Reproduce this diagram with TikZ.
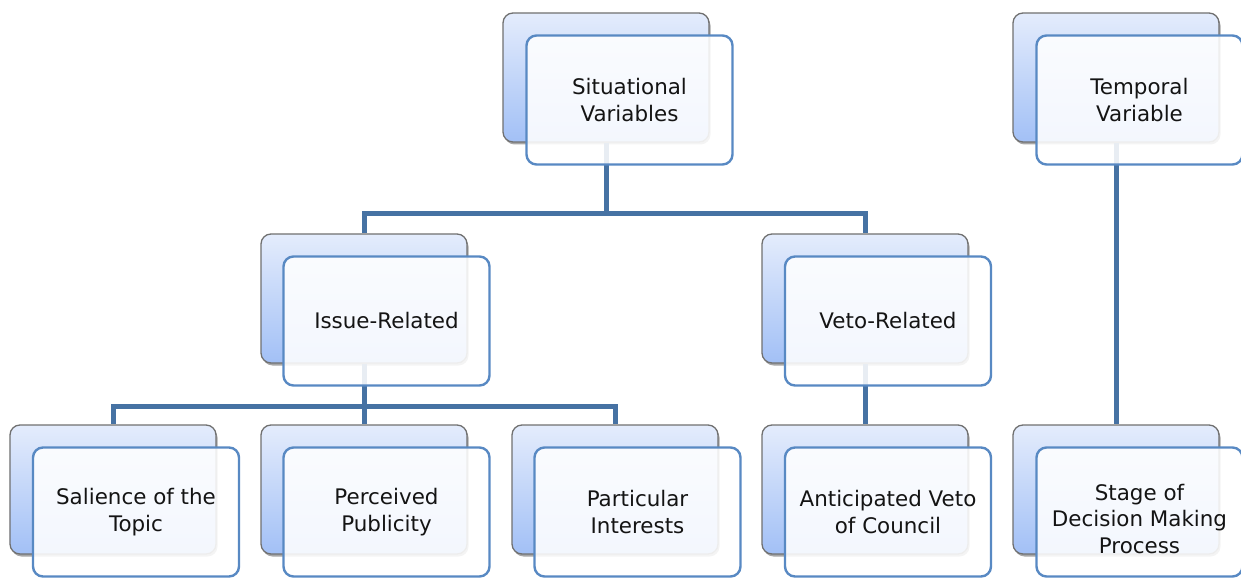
\documentclass[tikz,border=0pt]{standalone}
\usepackage{fontspec}
\setmainfont{DejaVu Sans}
\usetikzlibrary{shadows}
\definecolor{backtop}{RGB}{228,236,252}
\definecolor{backbot}{RGB}{162,192,246}
\definecolor{backline}{RGB}{112,112,112}
\definecolor{frontline}{RGB}{88,137,195}
\definecolor{conn}{RGB}{70,114,163}
\definecolor{txt}{RGB}{20,20,20}
\tikzset{
  backbox/.style={draw=backline, line width=1.3bp, rounded corners=10bp,
    top color=backtop, bottom color=backbot,
    minimum width=206bp, minimum height=129bp, inner sep=0pt,
    drop shadow={shadow xshift=1.5bp, shadow yshift=-2.5bp, opacity=0.35, fill=black}},
  boxtext/.style={align=center, text=txt, font=\fontsize{21.5}{26.5}\selectfont, inner sep=0pt},
  frontbox/.style={boxtext, draw=frontline, line width=2.4bp, rounded corners=10bp,
    fill=white, fill opacity=0.88, text opacity=1,
    minimum width=206bp, minimum height=129bp},
  link/.style={draw=conn, line width=5bp}
}
\begin{document}
\begin{tikzpicture}[x=1bp,y=-1bp]
\useasboundingbox (0,0) rectangle (1241,579);
% back boxes
\node[backbox] (sitB) at (606,77.5) {};
\node[backbox] (temB) at (1116,77.5) {};
\node[backbox] (issB) at (364,298.5) {};
\node[backbox] (vetB) at (865,298.5) {};
\node[backbox] (salB) at (113,489.5) {};
\node[backbox] (perB) at (364,489.5) {};
\node[backbox] (parB) at (615,489.5) {};
\node[backbox] (antB) at (865,489.5) {};
\node[backbox] (staB) at (1116,489.5) {};
% connectors
\draw[link] (sitB.south) -- ++(0,71) -| (issB.north);
\draw[link] (sitB.south) -- ++(0,71) -| (vetB.north);
\draw[link] (issB.south) -- ++(0,43) -| (salB.north);
\draw[link] (issB.south) -- ++(0,43) -| (perB.north);
\draw[link] (issB.south) -- ++(0,43) -| (parB.north);
\draw[link] (vetB.south) -- (antB.north);
\draw[link] (temB.south) -- (staB.north);
% front boxes
\node[frontbox] (sit) at (629.5,100) {Situational\\Variables};
\node[frontbox] (tem) at (1139.5,100) {Temporal\\Variable};
\node[frontbox] (iss) at (386.5,321) {Issue-Related};
\node[frontbox] (vet) at (888,321) {Veto-Related};
\node[frontbox] (sal) at (136,512) {Salience of the\\Topic};
\node[frontbox] (per) at (386.5,512) {Perceived\\Publicity};
\node[frontbox] (par) at (637.5,512) {Particular\\Interests};
\node[frontbox] (ant) at (888,512) {Anticipated Veto\\of Council};
\node[frontbox] (sta) at (1139.5,512) {};
\node[boxtext] (staT) at (1139.5,519) {Stage of\\Decision Making\\Process};
\end{tikzpicture}
\end{document}
